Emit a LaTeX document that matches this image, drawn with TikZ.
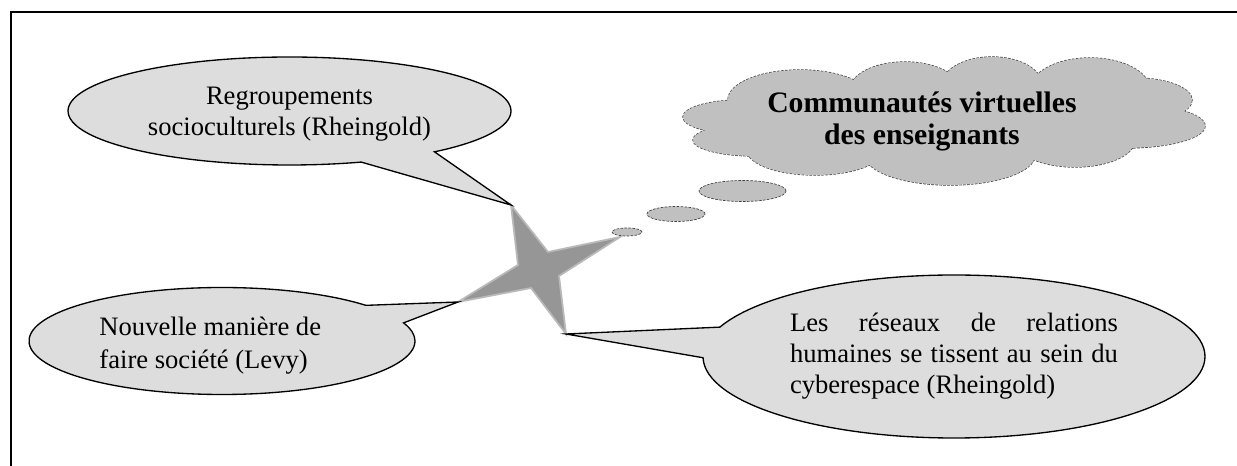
\documentclass[tikz,border=0pt]{standalone}
\usepackage{fontspec}
\setmainfont{Liberation Serif}
\usepackage{tikz}
\usetikzlibrary{shapes.geometric, shapes.callouts}
\definecolor{bubblegray}{RGB}{221,221,221}
\definecolor{cloudgray}{RGB}{192,192,192}
\definecolor{stargray}{RGB}{150,150,150}
\definecolor{staredge}{RGB}{185,185,185}
\newcommand{\pxu}{0.451pt}
\newcommand{\cloudpuffs}{800/100/72/30, 905/90/55/28, 992/85/50/28, 1090/90/60/32, 1135/100/57/22, 1125/126/80/22, 1075/140/60/27, 950/155/85/30, 815/150/68/25, 755/140/62/16, 742/117/59/17, 945/120/190/40}
\tikzstyle{frame} = [line width=0.7pt]
\tikzstyle{bubble} = [ellipse callout, draw=black, line width=0.6pt, fill=bubblegray, callout pointer arc=22, inner sep=0pt]
\tikzstyle{bubbletext} = [font=\fontsize{12}{14}\selectfont, inner sep=0pt]
\tikzstyle{cloudedge} = [draw=black!75, dash pattern=on 1.2pt off 0.6pt, line width=0.6pt]
\tikzstyle{dot} = [ellipse, draw=black!75, dash pattern=on 1.2pt off 0.6pt, line width=0.3pt, fill=cloudgray, inner sep=0pt]
\tikzstyle{starshape} = [fill=stargray, draw=staredge, line width=0.8pt, line join=miter]

\begin{document}
\begin{tikzpicture}[x=\pxu, y=-\pxu]
	\useasboundingbox (0,0) rectangle (1237,466);
	\draw [frame] (11,466) -- (11,12) -- (1237,12);

	% star
	\coordinate (startop) at (511,205);
	\coordinate (starright) at (620,237);
	\coordinate (starbottom) at (566,334);
	\coordinate (starleft) at (458,302);
	\draw [starshape] (startop) -- (548,252) -- (starright) -- (559,276) -- (starbottom) -- (531,288) -- (starleft) -- (518,265) -- cycle;

	% callouts
	\node (regroup) [bubble, minimum width=443*\pxu, minimum height=108*\pxu, callout absolute pointer=(startop)] at (289.5,111) {};
	\node (regrouptext) [bubbletext, align=center] at (289.5,114.5) {Regroupements\\socioculturels (Rheingold)};

	\node (levy) [bubble, minimum width=386*\pxu, minimum height=107*\pxu, callout absolute pointer=(starleft)] at (222,341) {};
	\node (levytext) [bubbletext, font=\fontsize{12}{14.9}\selectfont, align=left, anchor=west] at (99,345.5) {Nouvelle manière de\\faire société (Levy)};

	\node (reseaux) [bubble, minimum width=502*\pxu, minimum height=163*\pxu, callout absolute pointer=(starbottom)] at (954,356.5) {};
	\node (reseauxtext) [bubbletext, text width=328*\pxu, align=justify] at (reseaux.center) {Les réseaux de relations\linebreak humaines se tissent au sein du\linebreak cyberespace (Rheingold)};

	% thought cloud
	\node (dotsmall) [dot, minimum width=30*\pxu, minimum height=8*\pxu] at (627,232) {};
	\node (dotmid) [dot, minimum width=58*\pxu, minimum height=15*\pxu] at (676,214) {};
	\node (dotbig) [dot, minimum width=87*\pxu, minimum height=21*\pxu] at (742.5,191) {};
	\path [cloudedge] foreach \cx/\cy/\rx/\ry in \cloudpuffs {(\cx,\cy) ellipse [x radius=\rx, y radius=\ry]};
	\fill [cloudgray] foreach \cx/\cy/\rx/\ry in \cloudpuffs {(\cx,\cy) ellipse [x radius=\rx, y radius=\ry]};
	\node (communitytext) [font=\fontsize{13.4}{14.1}\selectfont\bfseries, align=center, inner sep=0pt] at (922,121.5) {Communautés virtuelles\\des enseignants};
\end{tikzpicture}
\end{document}
